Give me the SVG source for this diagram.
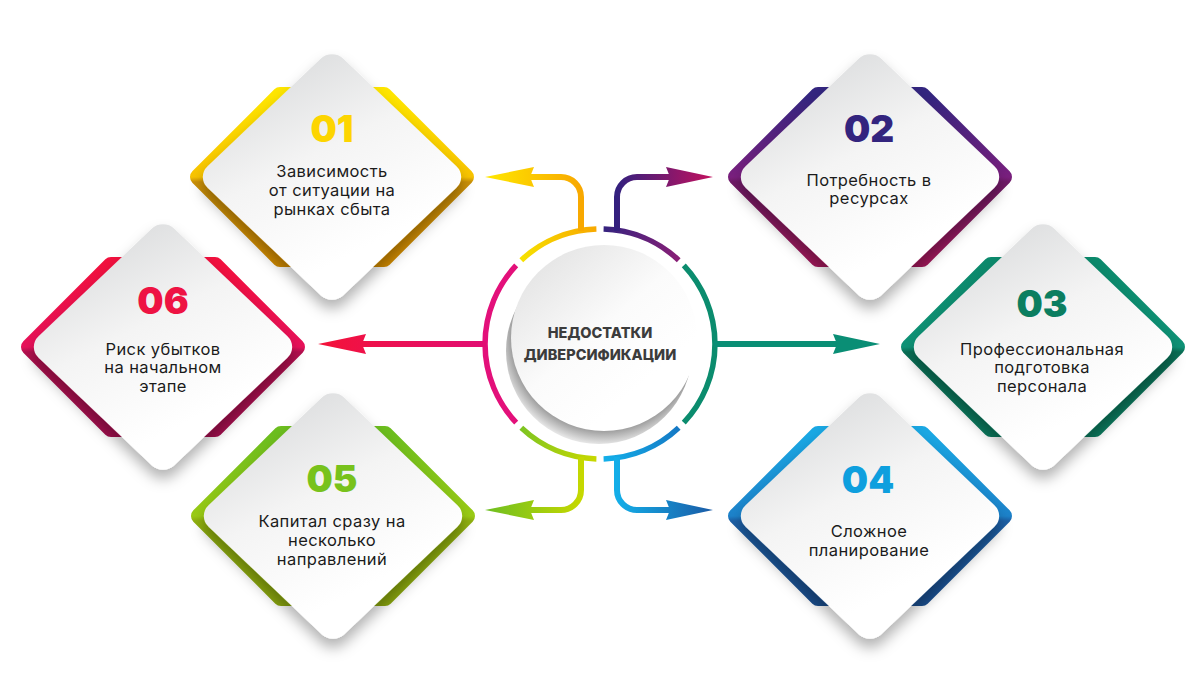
<svg xmlns="http://www.w3.org/2000/svg" width="1200" height="688" viewBox="0 0 1200 688">
<style>
.band{stroke-width:16;stroke-linejoin:round}
.card{fill:url(#cardg)}
.num{font-family:Inter,"Open Sans",sans-serif;font-weight:900;font-size:37px;text-anchor:middle}
.lbl{font-family:Inter,"Open Sans",sans-serif;font-size:16.5px;letter-spacing:0.4px;fill:#1b1b1b;text-anchor:middle}
.ctr{font-family:Inter,"Open Sans",sans-serif;font-weight:800;font-size:14.5px;fill:#3c3c3c;text-anchor:middle}
.ring{fill:none;stroke-width:5.5;stroke-linecap:butt}
.ln{fill:none;stroke-width:6;stroke-linecap:butt}
</style>
<defs>
<linearGradient id="cardg" x1="0" y1="0" x2="1" y2="0.3">
<stop offset="0" stop-color="#dfe0e1"/><stop offset="0.45" stop-color="#f4f4f4"/><stop offset="1" stop-color="#ffffff"/>
</linearGradient>
<filter id="sh" x="-30%" y="-30%" width="160%" height="170%">
<feDropShadow dx="0" dy="9" stdDeviation="7" flood-color="#000" flood-opacity="0.3"/>
</filter>
<linearGradient id="b01" x1="0" y1="0" x2="0" y2="1"><stop offset="0" stop-color="#FFE600"/><stop offset="0.5" stop-color="#F8C300"/><stop offset="0.53" stop-color="#C98F08"/><stop offset="1" stop-color="#D08A00"/></linearGradient>
<linearGradient id="b02" x1="0" y1="0" x2="0" y2="1"><stop offset="0" stop-color="#33257F"/><stop offset="0.5" stop-color="#7A1F7E"/><stop offset="0.53" stop-color="#6E1A66"/><stop offset="1" stop-color="#A0185A"/></linearGradient>
<linearGradient id="b03" x1="0" y1="0" x2="0" y2="1"><stop offset="0" stop-color="#0B8A6C"/><stop offset="0.5" stop-color="#0E9276"/><stop offset="0.53" stop-color="#0A6E55"/><stop offset="1" stop-color="#0B7A5E"/></linearGradient>
<linearGradient id="b04" x1="0" y1="0" x2="0" y2="1"><stop offset="0" stop-color="#1AA8E4"/><stop offset="0.5" stop-color="#1C82CA"/><stop offset="0.53" stop-color="#1C5FA5"/><stop offset="1" stop-color="#1A4E8E"/></linearGradient>
<linearGradient id="b05" x1="0" y1="0" x2="0" y2="1"><stop offset="0" stop-color="#6CBE1E"/><stop offset="0.5" stop-color="#9ACB14"/><stop offset="0.53" stop-color="#8FAF0E"/><stop offset="1" stop-color="#8AA60E"/></linearGradient>
<linearGradient id="b06" x1="0" y1="0" x2="0" y2="1"><stop offset="0" stop-color="#F2103E"/><stop offset="0.5" stop-color="#E7115A"/><stop offset="0.53" stop-color="#B20F4E"/><stop offset="1" stop-color="#A30F4E"/></linearGradient>
<linearGradient id="gY" gradientUnits="userSpaceOnUse" x1="485" y1="0" x2="581" y2="0"><stop offset="0" stop-color="#FFE800"/><stop offset="1" stop-color="#F8A800"/></linearGradient>
<linearGradient id="gP" gradientUnits="userSpaceOnUse" x1="617" y1="0" x2="713" y2="0"><stop offset="0" stop-color="#33207E"/><stop offset="1" stop-color="#C4115E"/></linearGradient>
<linearGradient id="gR" gradientUnits="userSpaceOnUse" x1="318" y1="0" x2="486" y2="0"><stop offset="0" stop-color="#F41238"/><stop offset="1" stop-color="#E10E74"/></linearGradient>
<linearGradient id="gL" gradientUnits="userSpaceOnUse" x1="485" y1="0" x2="581" y2="0"><stop offset="0" stop-color="#6DBE22"/><stop offset="1" stop-color="#C5D800"/></linearGradient>
<linearGradient id="gB" gradientUnits="userSpaceOnUse" x1="617" y1="0" x2="713" y2="0"><stop offset="0" stop-color="#14AEE8"/><stop offset="1" stop-color="#1A5BA6"/></linearGradient>
<linearGradient id="aY" gradientUnits="userSpaceOnUse" x1="521" y1="260" x2="596" y2="229"><stop offset="0" stop-color="#F6E200"/><stop offset="1" stop-color="#F8A900"/></linearGradient>
<linearGradient id="aP" gradientUnits="userSpaceOnUse" x1="603" y1="229" x2="679" y2="260"><stop offset="0" stop-color="#35237F"/><stop offset="1" stop-color="#8A1F76"/></linearGradient>
<linearGradient id="aB" gradientUnits="userSpaceOnUse" x1="603" y1="459" x2="679" y2="428"><stop offset="0" stop-color="#13B0EA"/><stop offset="1" stop-color="#1578C4"/></linearGradient>
<linearGradient id="aL" gradientUnits="userSpaceOnUse" x1="596" y1="459" x2="521" y2="428"><stop offset="0" stop-color="#C8D800"/><stop offset="1" stop-color="#7DC422"/></linearGradient>
<radialGradient id="cs" gradientUnits="userSpaceOnUse" cx="604" cy="338" r="110">
<stop offset="0.8" stop-color="#858585"/><stop offset="0.88" stop-color="#b4b4b4"/><stop offset="0.96" stop-color="#e2e2e2"/><stop offset="1" stop-color="#f2f2f2"/>
</radialGradient>
<linearGradient id="cw" x1="0.1" y1="0.05" x2="0.7" y2="0.75"><stop offset="0" stop-color="#e2e2e2"/><stop offset="0.6" stop-color="#fbfbfb"/><stop offset="1" stop-color="#ffffff"/></linearGradient>
</defs>
<rect width="1200" height="688" fill="#ffffff"/>

<g id="connectors">
<path class="ring" stroke="url(#aY)" d="M521.3,260.2 A115,115 0 0 1 596.4,229.1"/>
<path class="ring" stroke="url(#aP)" d="M603.6,229.1 A115,115 0 0 1 678.7,260.2"/>
<path class="ring" stroke="#0B8C6E" d="M683.8,265.3 A115,115 0 0 1 683.8,422.7"/>
<path class="ring" stroke="url(#aB)" d="M678.7,427.8 A115,115 0 0 1 603.6,458.9"/>
<path class="ring" stroke="url(#aL)" d="M596.4,458.9 A115,115 0 0 1 521.3,427.8"/>
<path class="ring" stroke="#E3107A" d="M516.2,422.7 A115,115 0 0 1 516.2,265.3"/>
<path class="ln" stroke="url(#gY)" d="M581,231 V197 A20,20 0 0 0 561,177 H530"/>
<polygon fill="url(#gY)" points="485,177 534,167 530,177 534,187"/>
<path class="ln" stroke="url(#gP)" d="M617,231 V197 A20,20 0 0 1 637,177 H670"/>
<polygon fill="url(#gP)" points="713,177 666,167 670,177 666,187"/>
<path class="ln" stroke="url(#gR)" d="M486,344 H362"/>
<polygon fill="url(#gR)" points="318,344 366,334 362,344 366,354"/>
<path class="ln" stroke="#0A8E75" d="M714,344 H838"/>
<polygon fill="#0A8E75" points="880,344 833,334 837,344 833,354"/>
<path class="ln" stroke="url(#gL)" d="M581,457 V490 A20,20 0 0 1 561,510 H530"/>
<polygon fill="url(#gL)" points="485,510 534,500 530,510 534,520"/>
<path class="ln" stroke="url(#gB)" d="M617,457 V490 A20,20 0 0 0 637,510 H670"/>
<polygon fill="url(#gB)" points="713,510 666,500 670,510 666,520"/>
</g>

<g id="center">
<circle cx="599" cy="351" r="93" fill="url(#cs)"/>
<circle cx="604" cy="338" r="93" fill="url(#cw)"/>
<text class="ctr" x="600" y="338">НЕДОСТАТКИ</text>
<text class="ctr" x="600" y="360">ДИВЕРСИФИКАЦИИ</text>
</g>

<g id="node-01">
<polygon class="band" transform="translate(332,177)" points="-134,0 -52,-82 52,-82 134,0 52,82 -52,82" fill="url(#b01)" stroke="url(#b01)"/>
<g filter="url(#sh)" transform="translate(332,177)"><rect class="card" x="-96" y="-96" width="192" height="192" rx="16" transform="scale(1,0.95) rotate(45)"/></g>
<text class="num" x="332" y="142" fill="#FDD500">01</text>
<text class="lbl"><tspan x="332" y="177">Зависимость</tspan><tspan x="332" y="196">от ситуации на</tspan><tspan x="332" y="215">рынках сбыта</tspan></text>
</g>

<g id="node-02">
<polygon class="band" transform="translate(870,177)" points="-134,0 -52,-82 52,-82 134,0 52,82 -52,82" fill="url(#b02)" stroke="url(#b02)"/>
<g filter="url(#sh)" transform="translate(870,177)"><rect class="card" x="-96" y="-96" width="192" height="192" rx="16" transform="scale(1,0.95) rotate(45)"/></g>
<text class="num" x="869" y="142" fill="#33247E">02</text>
<text class="lbl"><tspan x="869" y="186">Потребность в</tspan><tspan x="869" y="204">ресурсах</tspan></text>
</g>

<g id="node-03">
<polygon class="band" transform="translate(1043,347)" points="-134,0 -52,-82 52,-82 134,0 52,82 -52,82" fill="url(#b03)" stroke="url(#b03)"/>
<g filter="url(#sh)" transform="translate(1043,347)"><rect class="card" x="-96" y="-96" width="192" height="192" rx="16" transform="scale(1,0.95) rotate(45)"/></g>
<text class="num" x="1042" y="317" fill="#0B7E60">03</text>
<text class="lbl"><tspan x="1042" y="355">Профессиональная</tspan><tspan x="1042" y="373">подготовка</tspan><tspan x="1042" y="392">персонала</tspan></text>
</g>

<g id="node-04">
<polygon class="band" transform="translate(870,516)" points="-134,0 -52,-82 52,-82 134,0 52,82 -52,82" fill="url(#b04)" stroke="url(#b04)"/>
<g filter="url(#sh)" transform="translate(870,516)"><rect class="card" x="-96" y="-96" width="192" height="192" rx="16" transform="scale(1,0.95) rotate(45)"/></g>
<text class="num" x="868" y="493" fill="#0E9FDE">04</text>
<text class="lbl"><tspan x="869" y="537">Сложное</tspan><tspan x="869" y="556">планирование</tspan></text>
</g>

<g id="node-05">
<polygon class="band" transform="translate(333,516)" points="-134,0 -52,-82 52,-82 134,0 52,82 -52,82" fill="url(#b05)" stroke="url(#b05)"/>
<g filter="url(#sh)" transform="translate(333,516)"><rect class="card" x="-96" y="-96" width="192" height="192" rx="16" transform="scale(1,0.95) rotate(45)"/></g>
<text class="num" x="332" y="492" fill="#78C21C">05</text>
<text class="lbl"><tspan x="332" y="527">Капитал сразу на</tspan><tspan x="332" y="546">несколько</tspan><tspan x="332" y="565">направлений</tspan></text>
</g>

<g id="node-06">
<polygon class="band" transform="translate(163,347)" points="-134,0 -52,-82 52,-82 134,0 52,82 -52,82" fill="url(#b06)" stroke="url(#b06)"/>
<g filter="url(#sh)" transform="translate(163,347)"><rect class="card" x="-96" y="-96" width="192" height="192" rx="16" transform="scale(1,0.95) rotate(45)"/></g>
<text class="num" x="163" y="314" fill="#EE1343">06</text>
<text class="lbl"><tspan x="163" y="355">Риск убытков</tspan><tspan x="163" y="373">на начальном</tspan><tspan x="163" y="392">этапе</tspan></text>
</g>
</svg>
